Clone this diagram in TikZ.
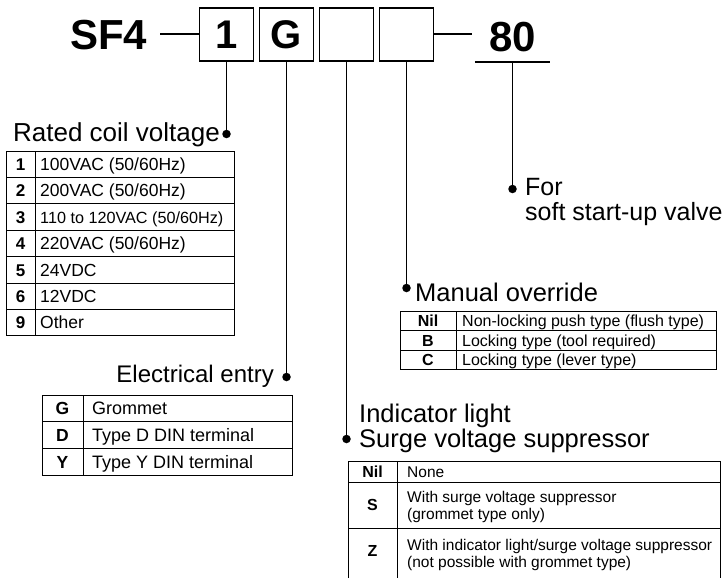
\documentclass[tikz,border=0pt]{standalone}
\usepackage{fontspec}
\setmainfont{Liberation Sans}
\usepackage{graphicx}
\begin{document}
\begin{tikzpicture}[x=1pt,y=-1pt,
  bullet/.style={circle,fill=black,inner sep=0pt,minimum size=8.5pt},
  conn/.style={line width=1.2pt},
  tabline/.style={line width=1pt},
  codebox/.style={draw,line width=1.5pt,minimum width=54pt,minimum height=53pt,inner sep=0pt,font=\fontsize{40}{40}\selectfont\bfseries},
  big/.style={inner sep=0pt,font=\fontsize{42}{42}\selectfont\bfseries},
  ttl/.style={inner sep=0pt,font=\fontsize{25.5}{28}\selectfont},
  labA/.style={inner sep=0pt,anchor=base,font=\fontsize{17}{20}\selectfont\bfseries},
  txtA/.style={inner sep=0pt,anchor=base west,font=\fontsize{17.5}{20}\selectfont},
  labB/.style={inner sep=0pt,anchor=base,font=\fontsize{17.5}{20}\selectfont\bfseries},
  txtB/.style={inner sep=0pt,anchor=base west,font=\fontsize{18}{20}\selectfont},
  labC/.style={inner sep=0pt,anchor=base,font=\fontsize{16}{18}\selectfont\bfseries},
  txtC/.style={inner sep=0pt,anchor=base west,font=\fontsize{16}{18}\selectfont},
  labD/.style={inner sep=0pt,anchor=base,font=\fontsize{16}{18}\selectfont\bfseries},
  txtD/.style={inner sep=0pt,anchor=base west,font=\fontsize{15.5}{17}\selectfont},
]
\useasboundingbox (0,0) rectangle (725,578);

% ---------- model code ----------
\node[big,anchor=base west] (sf4) at (70,50) {SF4};
\node[codebox] (b1) at (226.5,34.5) {1};
\node[codebox] (b2) at (286.5,34.5) {G};
\node[codebox] (b3) at (346.5,34.5) {};
\node[codebox] (b4) at (406.5,34.5) {};
\node[big,anchor=base,minimum width=75pt,text depth=10pt] (n80) at (512.5,52) {80};
\coordinate (l1) at (160,34.5);
\coordinate (l2) at (472,34.5);
\draw[line width=2pt] (l1) -- (b1.west);
\draw[line width=2pt] (b4.east) -- (l2);
\draw[line width=1.5pt] (n80.south west) -- (n80.south east);

% ---------- dots and connectors ----------
\node[bullet] (d1) at (226.5,134) {};
\node[bullet] (d2) at (286.5,377) {};
\node[bullet] (d3) at (346.5,439) {};
\node[bullet] (d4) at (406.5,288) {};
\node[bullet] (d5) at (512.5,189) {};
\draw[conn] (b1.south) -- (d1);
\draw[conn] (b2.south) -- (d2);
\draw[conn] (b3.south) -- (d3);
\draw[conn] (b4.south) -- (d4);
\draw[conn] (n80.south) -- (d5);

% ---------- titles ----------
\node[ttl,anchor=base east,font=\fontsize{26}{28}\selectfont] (t1) at (220,141) {Rated coil voltage};
\node[ttl,anchor=base east,font=\fontsize{24}{26}\selectfont] (t2) at (274,382) {Electrical entry};
\node[ttl,anchor=base west] (t4) at (415,301) {Manual override};
\node[ttl,anchor=base west] (t3a) at (359,422) {Indicator light};
\node[ttl,anchor=base west] (t3b) at (359,447) {Surge voltage suppressor};
\node[ttl,anchor=base west,font=\fontsize{25}{28}\selectfont] (t5a) at (525,195) {For};
\node[ttl,anchor=base west,font=\fontsize{25}{28}\selectfont] (t5b) at (525,220) {soft start-up valve};

% ---------- table 1 : rated coil voltage ----------
\draw[tabline] (6,151) rectangle (234,335.8);
\draw[tabline] (35,151) -- (35,335.8);
\foreach \yy in {177.4,203.8,230.2,256.6,283,309.4} \draw[tabline] (6,\yy) -- (234,\yy);
\node[labA] (a1) at (20.5,170.4) {1};
\node[labA] (a2) at (20.5,196.8) {2};
\node[labA] (a3) at (20.5,223.2) {3};
\node[labA] (a4) at (20.5,249.6) {4};
\node[labA] (a5) at (20.5,276) {5};
\node[labA] (a6) at (20.5,302.4) {6};
\node[labA] (a9) at (20.5,328.8) {9};
\node[txtA] (v1) at (40,170.4) {100VAC (50/60Hz)};
\node[txtA] (v2) at (40,196.8) {200VAC (50/60Hz)};
\node[txtA,font=\fontsize{16.2}{18}\selectfont] (v3) at (40,223.2) {110 to 120VAC (50/60Hz)};
\node[txtA] (v4) at (40,249.6) {220VAC (50/60Hz)};
\node[txtA] (v5) at (40,276) {24VDC};
\node[txtA] (v6) at (40,302.4) {12VDC};
\node[txtA] (v9) at (40,328.8) {Other};

% ---------- table 2 : electrical entry ----------
\draw[tabline] (42,395) rectangle (292,475);
\draw[tabline] (83,395) -- (83,475);
\draw[tabline] (42,421.7) -- (292,421.7);
\draw[tabline] (42,448.4) -- (292,448.4);
\node[labB] (eG) at (62.5,414.8) {G};
\node[labB] (eD) at (62.5,441.5) {D};
\node[labB] (eY) at (62.5,468.2) {Y};
\node[txtB] (eGt) at (92,414.8) {Grommet};
\node[txtB] (eDt) at (92,441.5) {Type D DIN terminal};
\node[txtB] (eYt) at (92,468.2) {Type Y DIN terminal};

% ---------- table 3 : manual override ----------
\draw[tabline] (400,311) rectangle (716,369.5);
\draw[tabline] (456,311) -- (456,369.5);
\draw[tabline] (400,330.5) -- (716,330.5);
\draw[tabline] (400,350) -- (716,350);
\node[labC] (mN) at (428,326.5) {Nil};
\node[labC] (mB) at (428,346) {B};
\node[labC] (mC) at (428,365.5) {C};
\node[txtC] (mNt) at (462,326.5) {Non-locking push type (flush type)};
\node[txtC] (mBt) at (462,346) {Locking type (tool required)};
\node[txtC] (mCt) at (462,365.5) {Locking type (lever type)};

% ---------- table 4 : indicator light / surge voltage suppressor ----------
\draw[tabline] (348,578) -- (348,461) -- (720,461) -- (720,578);
\draw[tabline] (397,461) -- (397,578);
\draw[tabline] (348,482) -- (720,482);
\draw[tabline] (348,528) -- (720,528);
\node[labD] (sN) at (372.5,477) {Nil};
\node[labD] (sS) at (372.5,510.5) {S};
\node[labD] (sZ) at (372.5,556.5) {Z};
\node[txtD] (sNt) at (407,477) {None};
\node[txtD] (sSt1) at (407,502.5) {With surge voltage suppressor};
\node[txtD] (sSt2) at (407,519) {(grommet type only)};
\node[txtD] (sZt1) at (407,550.5) {With indicator light/surge voltage suppressor};
\node[txtD] (sZt2) at (407,567) {(not possible with grommet type)};
\end{tikzpicture}
\end{document}
